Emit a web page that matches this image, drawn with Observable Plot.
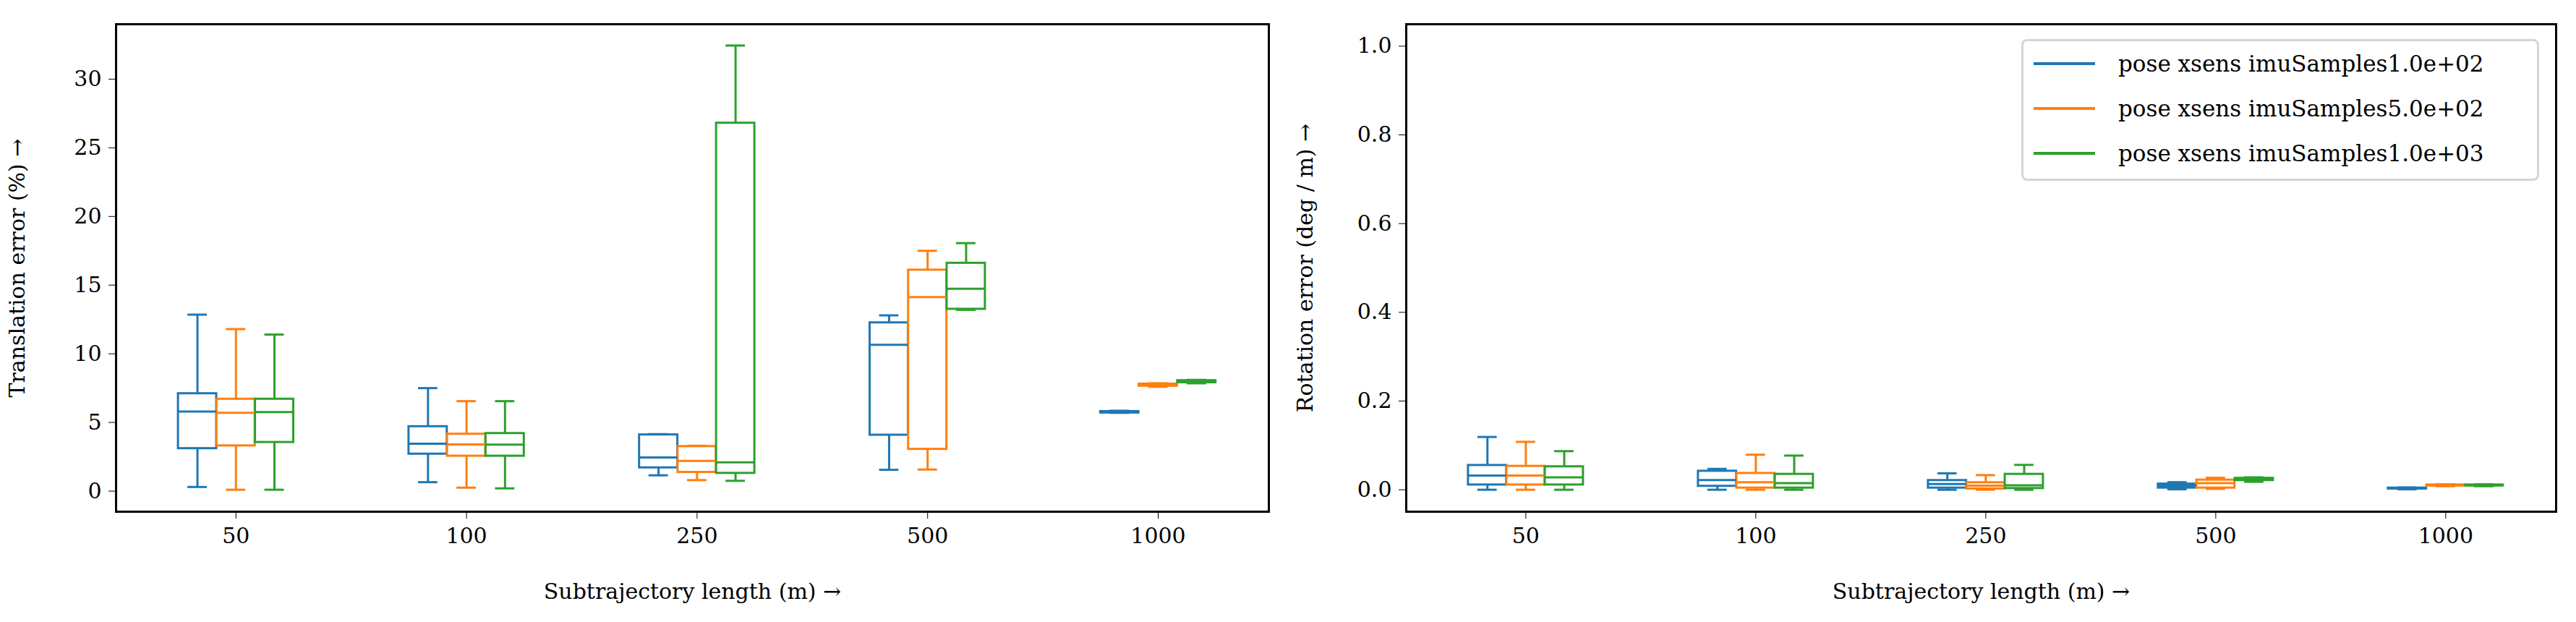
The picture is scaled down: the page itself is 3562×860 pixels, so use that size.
<!DOCTYPE html>
<html><head><meta charset="utf-8">
<script src="https://cdn.jsdelivr.net/npm/d3@7"></script>
<script src="https://cdn.jsdelivr.net/npm/@observablehq/plot@0.6"></script>
<style>
body{margin:0;background:#fff;font-family:"DejaVu Serif","Liberation Serif",serif;}
#wrap{position:relative;width:3562px;height:860px;display:flex;}
.legend{position:absolute;left:2795px;top:54px;width:716px;height:196px;border:3px solid #d5d5d5;border-radius:8px;background:#fff;box-sizing:border-box;font-size:31px;}
.legend div{display:flex;align-items:center;height:62px;margin-left:14px;}
.legend span.l{display:inline-block;width:85px;height:4px;margin-right:32px;}
</style></head><body>
<div id="wrap"></div>
<script>
const lengths = ["50","100","250","500","1000"];
const series = ["pose xsens imuSamples1.0e+02","pose xsens imuSamples5.0e+02","pose xsens imuSamples1.0e+03"];
const colors = ["#1f77b4","#ff7f0e","#2ca02c"];
// [whisker low, q1, median, q3, whisker high] per length
const transS1 = [[0.3,3.1,5.8,7.1,12.85],[0.65,2.7,3.45,4.7,7.5],[1.15,1.7,2.45,4.1,4.15],[1.55,4.08,10.66,12.26,12.8],[5.7,5.7,5.75,5.8,5.85]];
const transS2 = [[0.1,3.3,5.7,6.7,11.8],[0.25,2.55,3.4,4.15,6.55],[0.8,1.37,2.2,3.25,3.3],[1.57,3.05,14.13,16.1,17.5],[7.6,7.65,7.7,7.8,7.85]];
const transS3 = [[0.1,3.55,5.75,6.7,11.4],[0.2,2.55,3.38,4.2,6.55],[0.75,1.3,2.1,26.8,32.45],[13.2,13.25,14.74,16.6,18.06],[7.85,7.9,7.95,8.05,8.1]];
const rotS1 = [[0,0.011,0.032,0.055,0.119],[0,0.008,0.022,0.042,0.047],[0,0.004,0.013,0.021,0.037],[0.001,0.004,0.009,0.013,0.017],[0.001,0.002,0.003,0.004,0.005]];
const rotS2 = [[0,0.011,0.032,0.053,0.108],[0,0.004,0.017,0.037,0.079],[0,0.002,0.009,0.016,0.033],[0.002,0.004,0.015,0.022,0.027],[0.008,0.009,0.010,0.011,0.012]];
const rotS3 = [[0,0.011,0.028,0.052,0.087],[0,0.004,0.015,0.035,0.077],[0,0.003,0.010,0.035,0.056],[0.018,0.021,0.024,0.026,0.028],[0.008,0.009,0.010,0.011,0.012]];
const transTicks = [0,5,10,15,20,25,30];
const rotTicks = [0,0.2,0.4,0.6,0.8,1.0];

const offsets = [-0.167,0,0.167];
const hw = 0.083, cw = 0.042;
function rows(sets){
  const out=[];
  sets.forEach((set,s)=>set.forEach((v,i)=>{
    const c=i+offsets[s];
    out.push({s, c, lo:v[0], q1:v[1], med:v[2], q3:v[3], hi:v[4]});
  }));
  return out;
}
function panel(sets, ydom, ticks, fmt, label, ml, mr){
  const data=rows(sets);
  return Plot.plot({
    width:1781, height:860, marginLeft:ml, marginRight:mr, marginTop:33, marginBottom:153,
    style:{fontFamily:'"DejaVu Serif","Liberation Serif",serif', fontSize:"30px", background:"#fff"},
    x:{domain:[-0.52,4.48], ticks:[0,1,2,3,4], tickFormat:i=>lengths[i], tickSize:10, tickPadding:12,
       label:"Subtrajectory length (m)", labelAnchor:"center", labelOffset:120},
    y:{domain:ydom, ticks, tickFormat:fmt, tickSize:10, tickPadding:10,
       label:label, labelAnchor:"center", labelOffset:ml-12},
    color:{domain:[0,1,2], range:colors},
    marks:[
      Plot.ruleX(data,{x:"c", y1:"lo", y2:"q1", stroke:d=>colors[d.s], strokeWidth:3}),
      Plot.ruleX(data,{x:"c", y1:"q3", y2:"hi", stroke:d=>colors[d.s], strokeWidth:3}),
      Plot.ruleY(data,{y:"lo", x1:d=>d.c-cw, x2:d=>d.c+cw, stroke:d=>colors[d.s], strokeWidth:3}),
      Plot.ruleY(data,{y:"hi", x1:d=>d.c-cw, x2:d=>d.c+cw, stroke:d=>colors[d.s], strokeWidth:3}),
      Plot.rect(data,{x1:d=>d.c-hw, x2:d=>d.c+hw, y1:"q1", y2:"q3", fill:"white", stroke:d=>colors[d.s], strokeWidth:3}),
      Plot.ruleY(data,{y:"med", x1:d=>d.c-hw, x2:d=>d.c+hw, stroke:d=>colors[d.s], strokeWidth:3}),
      Plot.frame({stroke:"black", strokeWidth:3})
    ]
  });
}
const wrap=document.getElementById("wrap");
const a=panel([transS1,transS2,transS3],[-1.5,34],transTicks,d3.format("d"),"Translation error (%)",160,27);
const b=panel([rotS1,rotS2,rotS3],[-0.0495,1.0495],rotTicks,d3.format(".1f"),"Rotation error (deg / m)",163,28);
wrap.appendChild(a); wrap.appendChild(b);
const lg=document.createElement("div"); lg.className="legend";
series.forEach((s,i)=>{const r=document.createElement("div");
  r.innerHTML=`<span class="l" style="background:${colors[i]}"></span><span>${s}</span>`; lg.appendChild(r);});
wrap.appendChild(lg);
</script></body></html>
